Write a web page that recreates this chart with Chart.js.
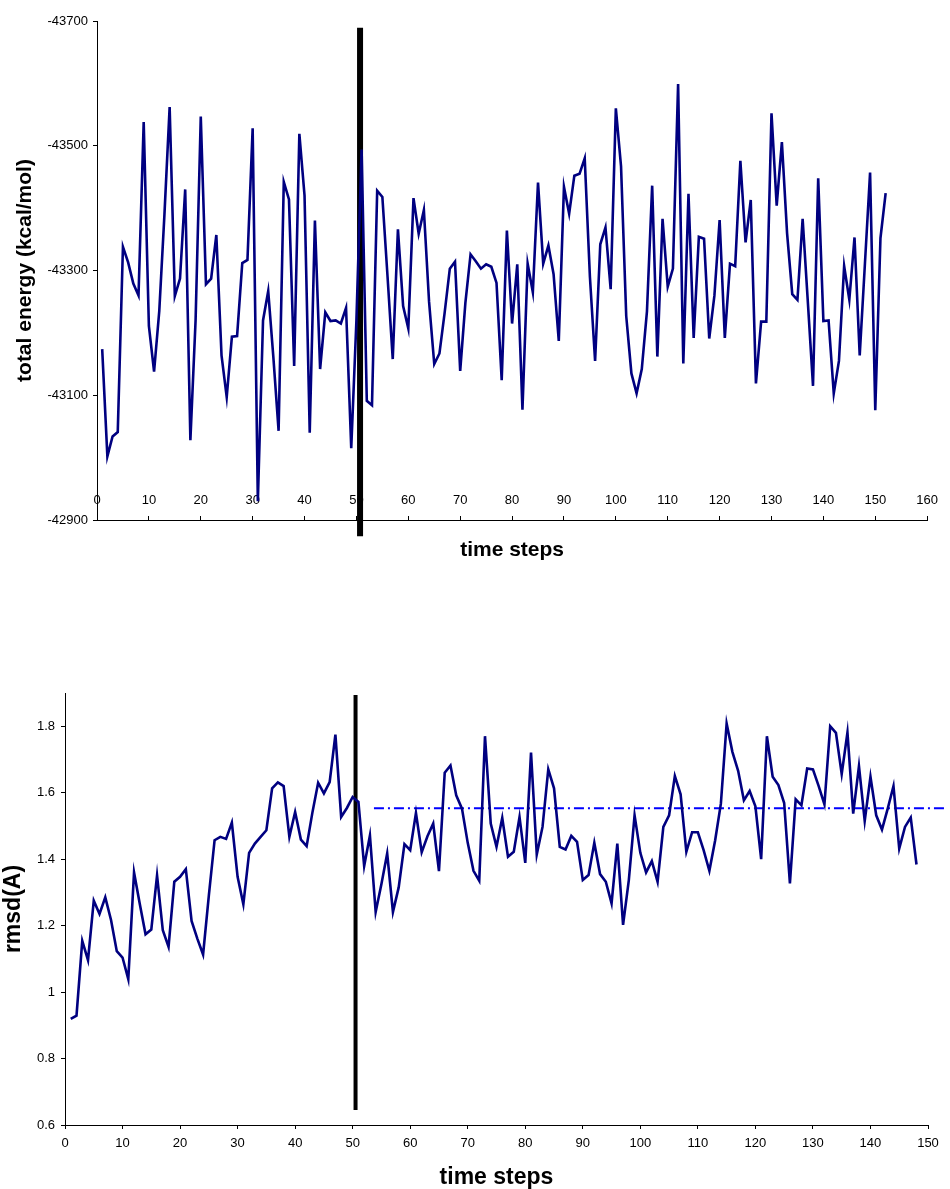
<!DOCTYPE html>
<html>
<head>
<meta charset="utf-8">
<script src="https://cdn.jsdelivr.net/npm/chart.js@4.4.1/dist/chart.umd.min.js"></script>
<style>
    body { margin: 0; background: #fff; }
    #wrap { position: relative; width: 950px; height: 1189px; }
    canvas { position: absolute; left: 0; }
    #energyChart { top: 0; }
    #rmsdChart { top: 600px; }
</style>
</head>
<body>
<div id="wrap">
    <canvas id="energyChart" width="950" height="575"></canvas>
    <canvas id="rmsdChart" width="950" height="589"></canvas>
</div>
<script>
// total energy per time step (kcal/mol), steps start at 1
const ENERGY = [
    -43174, -43002, -43034, -43041, -43338, -43313, -43279, -43260, -43538, -43211,
    -43138, -43235, -43390, -43562, -43259, -43287, -43430, -43028, -43220, -43547,
    -43278, -43287, -43357, -43164, -43097, -43194, -43195, -43312, -43317, -43528,
    -42930, -43220, -43267, -43160, -43043, -43442, -43414, -43147, -43519, -43420,
    -43040, -43380, -43142, -43233, -43219, -43220, -43215, -43240, -43015, -43220,
    -43494, -43091, -43084, -43428, -43418, -43290, -43158, -43366, -43243, -43207,
    -43416, -43359, -43397, -43250, -43150, -43167, -43232, -43303, -43314, -43139,
    -43248, -43326, -43315, -43303, -43310, -43306, -43280, -43124, -43364, -43215,
    -43310, -43077, -43311, -43265, -43441, -43311, -43340, -43294, -43187, -43434,
    -43391, -43452, -43455, -43480, -43290, -43155, -43342, -43369, -43270, -43560,
    -43467, -43227, -43135, -43103, -43142, -43235, -43436, -43162, -43383, -43274,
    -43303, -43599, -43151, -43423, -43192, -43354, -43351, -43191, -43260, -43381,
    -43192, -43311, -43307, -43476, -43345, -43413, -43119, -43218, -43218, -43552,
    -43404, -43506, -43360, -43262, -43253, -43383, -43250, -43115, -43448, -43219,
    -43220, -43103, -43155, -43307, -43253, -43353, -43164, -43310, -43457, -43076,
    -43352, -43424
];

// rmsd per time step (A), steps start at 1
const RMSD = [
    0.919, 0.929, 1.154, 1.096, 1.275, 1.235, 1.285, 1.217, 1.123, 1.104,
    1.039, 1.360, 1.265, 1.174, 1.188, 1.351, 1.186, 1.136, 1.332, 1.347,
    1.370, 1.214, 1.161, 1.113, 1.290, 1.457, 1.467, 1.461, 1.510, 1.347,
    1.264, 1.419, 1.447, 1.467, 1.487, 1.613, 1.631, 1.620, 1.467, 1.542,
    1.459, 1.439, 1.540, 1.630, 1.598, 1.632, 1.775, 1.527, 1.554, 1.587,
    1.572, 1.379, 1.471, 1.241, 1.325, 1.417, 1.241, 1.315, 1.445, 1.427,
    1.539, 1.421, 1.469, 1.507, 1.364, 1.660, 1.682, 1.592, 1.552, 1.449,
    1.365, 1.335, 1.770, 1.507, 1.437, 1.524, 1.407, 1.422, 1.527, 1.389,
    1.721, 1.414, 1.497, 1.670, 1.613, 1.437, 1.429, 1.470, 1.452, 1.337,
    1.352, 1.449, 1.355, 1.332, 1.267, 1.447, 1.202, 1.337, 1.532, 1.419,
    1.360, 1.394, 1.332, 1.497, 1.532, 1.650, 1.595, 1.422, 1.481, 1.481,
    1.427, 1.365, 1.456, 1.567, 1.808, 1.723, 1.666, 1.577, 1.605, 1.559,
    1.400, 1.770, 1.648, 1.623, 1.569, 1.327, 1.580, 1.562, 1.673, 1.670,
    1.620, 1.565, 1.800, 1.780, 1.656, 1.781, 1.537, 1.680, 1.515, 1.648,
    1.532, 1.489, 1.552, 1.620, 1.432, 1.497, 1.525, 1.384
];

// equilibration cut-off markers and the rmsd average line
const ENERGY_CUT_STEP = 50.7;
const ENERGY_CUT_RANGE = [-43689, -42874];
const RMSD_CUT_STEP = 50.5;
const RMSD_CUT_RANGE = [1.894, 0.645];
const RMSD_MEAN = 1.553;
const RMSD_MEAN_STEPS = [53.7, 153.4];

// tick labels
const ENERGY_X_TICKS = [0, 10, 20, 30, 40, 50, 60, 70, 80, 90, 100, 110, 120, 130, 140, 150, 160];
const ENERGY_Y_TICKS = [-43700, -43500, -43300, -43100, -42900];
const RMSD_X_TICKS = [0, 10, 20, 30, 40, 50, 60, 70, 80, 90, 100, 110, 120, 130, 140, 150];
const RMSD_Y_TICKS = [0.6, 0.8, 1, 1.2, 1.4, 1.6, 1.8];

const FONT = '"Liberation Sans", Arial, sans-serif';
const NAVY = '#000080';

function toPoints(values) {
    return values.map((v, i) => ({ x: i + 1, y: v }));
}

function fixedTicks(list) {
    return (scale) => { scale.ticks = list.map(v => ({ value: v })); };
}

function axisBase(tickList, padding) {
    return {
        type: 'linear',
        afterBuildTicks: fixedTicks(tickList),
        border: { color: '#000', width: 1 },
        grid: { drawOnChartArea: false, color: '#000', tickLength: 4, tickWidth: 1 },
        ticks: {
            color: '#000',
            font: { family: FONT, size: 13 },
            padding: padding,
            maxRotation: 0,
            autoSkip: false,
            callback: v => String(v),
        },
    };
}

function titleOpts(text, size, padding, lineHeight) {
    return {
        display: true,
        text: text,
        color: '#000',
        font: { family: FONT, size: size, weight: 'bold', lineHeight: lineHeight || 1.2 },
        padding: padding,
    };
}

function buildEnergyChart() {
    // labels sit above the axis line, ticks point up into the plot
    const x = axisBase(ENERGY_X_TICKS, 12);
    x.min = 0;
    x.max = 160;
    x.ticks.mirror = true;
    x.grid.tickLength = -4;
    x.title = titleOpts('time steps', 21, { top: 0, bottom: 12 });
    x.afterFit = s => { s.height = 55; };

    const y = axisBase(ENERGY_Y_TICKS, 5);
    y.min = -43700;
    y.max = -42900;
    y.reverse = true;
    y.title = titleOpts('total energy (kcal/mol)', 21, { top: 13, bottom: 0 });
    y.afterFit = s => { s.width = 97; };

    new Chart(document.getElementById('energyChart'), {
        type: 'line',
        data: {
            datasets: [
                {
                    data: toPoints(ENERGY),
                    borderColor: NAVY,
                    borderWidth: 2.6,
                    pointRadius: 0,
                    tension: 0,
                },
                {
                    data: ENERGY_CUT_RANGE.map(v => ({ x: ENERGY_CUT_STEP, y: v })),
                    borderColor: '#000',
                    borderWidth: 6,
                    pointRadius: 0,
                    clip: false,
                },
            ]
        },
        options: {
            responsive: false,
            animation: false,
            devicePixelRatio: 1,
            layout: { padding: { top: 21, right: 17, left: 0, bottom: 0 } },
            plugins: { legend: { display: false }, tooltip: { enabled: false } },
            scales: { x: x, y: y },
        }
    });
}

function buildRmsdChart() {
    const x = axisBase(RMSD_X_TICKS, 7);
    x.min = 0;
    x.max = 150;
    x.title = titleOpts('time steps', 23, { top: 0, bottom: 0 }, 1.0);
    x.afterFit = s => { s.height = 64; };

    const y = axisBase(RMSD_Y_TICKS, 6);
    y.min = 0.6;
    y.max = 1.9;
    y.title = titleOpts('rmsd(A)', 23, { top: 0, bottom: 0 });
    y.afterFit = s => { s.width = 65; };

    new Chart(document.getElementById('rmsdChart'), {
        type: 'line',
        data: {
            datasets: [
                {
                    data: toPoints(RMSD),
                    borderColor: NAVY,
                    borderWidth: 2.6,
                    pointRadius: 0,
                    tension: 0,
                },
                {
                    data: RMSD_CUT_RANGE.map(v => ({ x: RMSD_CUT_STEP, y: v })),
                    borderColor: '#000',
                    borderWidth: 4,
                    pointRadius: 0,
                    clip: false,
                },
                {
                    data: RMSD_MEAN_STEPS.map(s => ({ x: s, y: RMSD_MEAN })),
                    borderColor: '#0000ff',
                    borderWidth: 2,
                    borderDash: [10, 4, 2, 4],
                    pointRadius: 0,
                    clip: false,
                },
            ]
        },
        options: {
            responsive: false,
            animation: false,
            devicePixelRatio: 1,
            layout: { padding: { top: 93, right: 22, left: 0, bottom: 0 } },
            plugins: { legend: { display: false }, tooltip: { enabled: false } },
            scales: { x: x, y: y },
        }
    });
}

buildEnergyChart();
buildRmsdChart();
</script>
</body>
</html>
